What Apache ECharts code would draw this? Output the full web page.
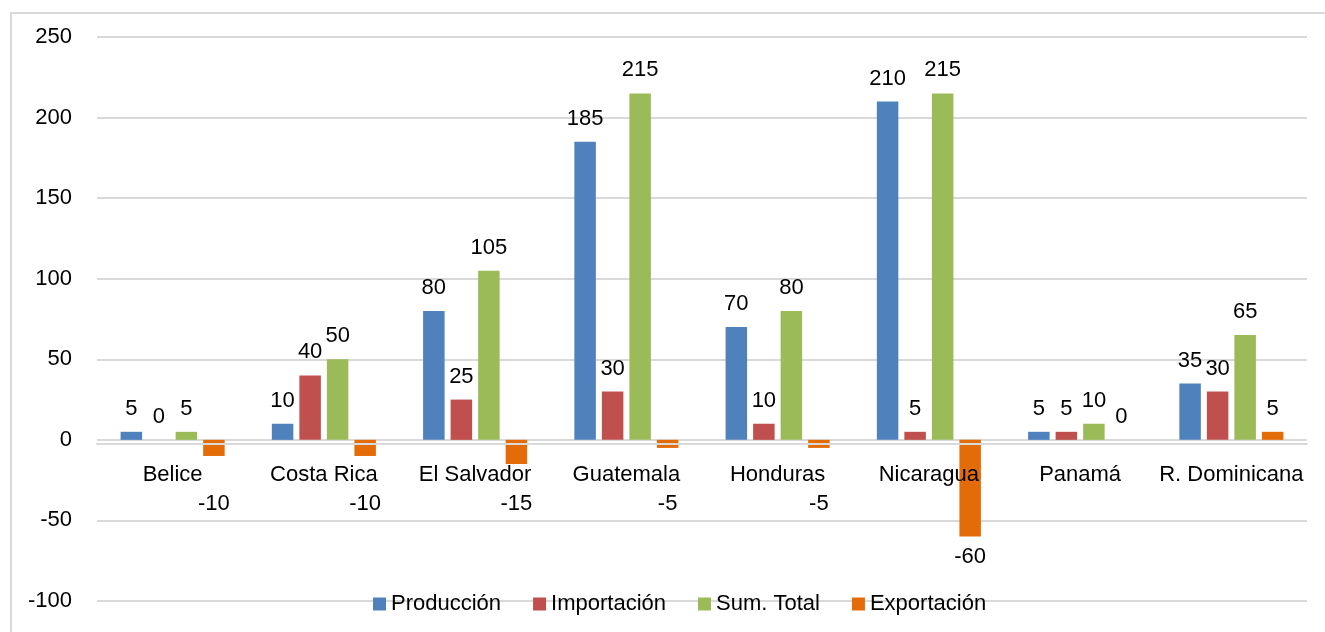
<!DOCTYPE html>
<html>
<head>
<meta charset="utf-8">
<script src="https://cdn.jsdelivr.net/npm/echarts@6/dist/echarts.min.js"></script>
<style>
html,body{margin:0;padding:0;background:#fff;}
#chart{width:1325px;height:632px;}
</style>
</head>
<body>
<div id="chart"></div>
<script>
const categories = ['Belice','Costa Rica','El Salvador','Guatemala','Honduras','Nicaragua','Panamá','R. Dominicana'];
const produccion = [5,10,80,185,70,210,5,35];
const importacion = [0,40,25,30,10,5,5,30];
const sumTotal = [5,50,105,215,80,215,10,65];
const exportacion = [-10,-10,-15,-5,-5,-60,0,5];
const seriesNames = ['Producción','Importación','Sum. Total','Exportación'];
const colors = ['#4f81bd','#c0504d','#9bbb59','#e36c09'];

const FONT = 'Liberation Sans, Arial, sans-serif';
const FS = 22;
const chart = echarts.init(document.getElementById('chart'));

function mkSeries(name, data, color){
  return {
    name: name, type: 'bar', data: data,
    barWidth: 21.5, barGap: '28%',
    itemStyle: {color: color},
    label: {show: true, position: 'top', distance: 12, color: '#000', fontFamily: FONT, fontSize: FS},
    emphasis: {disabled: true}
  };
}

const option = {
  animation: false,
  color: colors,
  graphic: [{
    type: 'rect', shape: {x: 11, y: 13, width: 1330, height: 640},
    style: {fill: 'none', stroke: '#d9d9d9', lineWidth: 2}, silent: true, z: -10
  }],
  grid: {left: 97, right: 18, top: 37, bottom: 31, containLabel: false},
  legend: {
    data: seriesNames, top: 588, left: 368, icon: 'rect',
    itemWidth: 13, itemHeight: 13, itemGap: 32,
    textStyle: {color: '#000', fontFamily: FONT, fontSize: FS}
  },
  xAxis: {
    type: 'category', data: categories, position: 'bottom', z: 10,
    axisLine: {onZero: false, lineStyle: {color: '#d9d9d9', width: 2}},
    axisTick: {show: false},
    axisLabel: {color: '#000', fontFamily: FONT, fontSize: FS, margin: 21, interval: 0}
  },
  yAxis: {
    type: 'value', min: -100, max: 250, interval: 50,
    axisLine: {show: false}, axisTick: {show: false},
    splitLine: {lineStyle: {color: '#d9d9d9', width: 2}},
    axisLabel: {color: '#000', fontFamily: FONT, fontSize: FS, margin: 25}
  },
  series: [
    mkSeries(seriesNames[0], produccion, colors[0]),
    mkSeries(seriesNames[1], importacion, colors[1]),
    mkSeries(seriesNames[2], sumTotal, colors[2]),
    mkSeries(seriesNames[3], exportacion, colors[3])
  ]
};
chart.setOption(option);

// Move the category axis up to the zero line, and place negative labels like the reference
const zeroY = chart.convertToPixel({yAxisIndex: 0}, 0);
const minY = chart.convertToPixel({yAxisIndex: 0}, -100);
const expData = exportacion.map(function(v){
  if (v >= 0) return v;
  const endY = chart.convertToPixel({yAxisIndex: 0}, v);
  const d = Math.max(zeroY + 53 - endY, 9);
  return {value: v, label: {position: 'bottom', distance: d}};
});
chart.setOption({
  xAxis: {offset: -(minY - zeroY)},
  series: [{}, {}, {}, {data: expData}]
});
</script>
</body>
</html>
